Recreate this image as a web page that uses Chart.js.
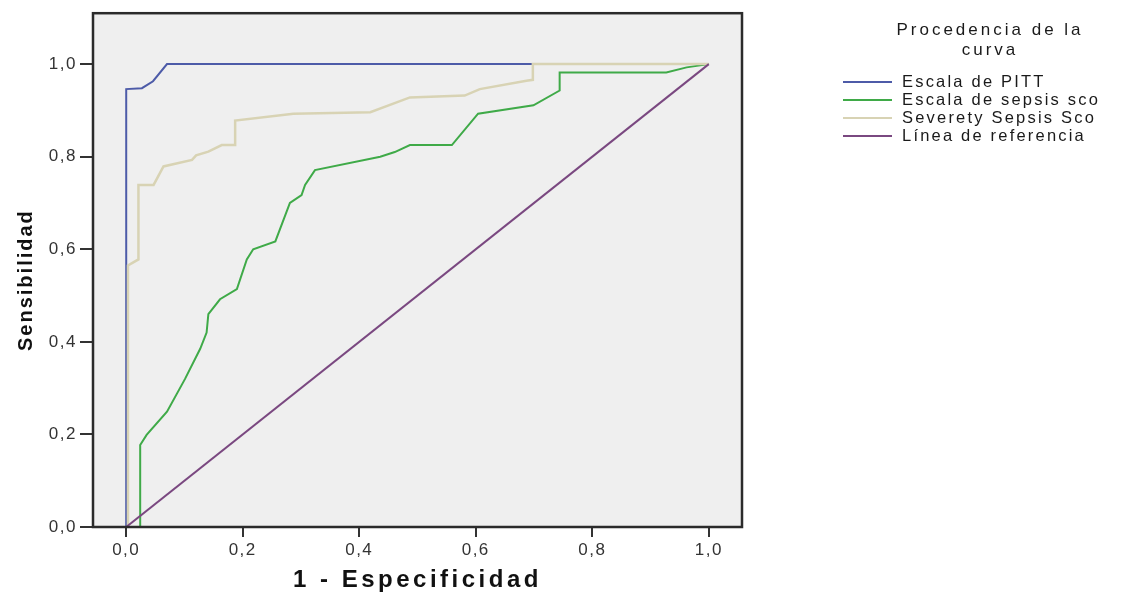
<!DOCTYPE html>
<html>
<head>
<meta charset="utf-8">
<script src="https://cdn.jsdelivr.net/npm/chart.js@4/dist/chart.umd.min.js"></script>
<style>
  body { margin: 0; background: #fff; }
  #wrap { position: relative; width: 1129px; height: 595px; overflow: hidden; }
  #legend { position: absolute; left: 0; top: 0; font-family: "Liberation Sans", Arial, sans-serif; color: #1a1a1a; }
  .ltitle { position: absolute; left: 880px; width: 220px; top: 20px; text-align: center; font-size: 17px; line-height: 20px; letter-spacing: 3px; }
  .litem { position: absolute; left: 843px; height: 18px; line-height: 18px; font-size: 16.5px; letter-spacing: 2.2px; white-space: nowrap; }
  .litem span { display: inline-block; width: 49px; height: 2px; vertical-align: middle; margin-right: 10px; position: relative; top: -1px; }
</style>
</head>
<body>
<div id="wrap">
  <canvas id="roc" width="1129" height="595"></canvas>
  <div id="legend"></div>
</div>
<script>
// ROC curves (x = 1 - especificidad, y = sensibilidad)
const pittX = [0, 0, 0.027, 0.046, 0.07, 1];
const pittY = [0, 0.946, 0.948, 0.963, 1, 1];

const sepsisX = [0.024, 0.024, 0.035, 0.07, 0.101, 0.127, 0.138, 0.141, 0.161, 0.19, 0.207, 0.218, 0.256, 0.281, 0.301, 0.307, 0.324, 0.436, 0.461, 0.487, 0.559, 0.604, 0.699, 0.744, 0.744, 0.927, 0.962, 1];
const sepsisY = [0, 0.177, 0.199, 0.249, 0.32, 0.385, 0.42, 0.46, 0.492, 0.514, 0.578, 0.6, 0.617, 0.7, 0.717, 0.739, 0.771, 0.8, 0.81, 0.825, 0.825, 0.893, 0.911, 0.943, 0.982, 0.982, 0.993, 1];

const severityX = [0.003, 0.003, 0.021, 0.021, 0.047, 0.064, 0.113, 0.12, 0.141, 0.164, 0.187, 0.187, 0.287, 0.419, 0.487, 0.581, 0.607, 0.687, 0.698, 0.698, 1];
const severityY = [0, 0.565, 0.578, 0.739, 0.739, 0.779, 0.793, 0.803, 0.811, 0.825, 0.825, 0.878, 0.893, 0.896, 0.928, 0.932, 0.946, 0.964, 0.966, 1, 1];

const refX = [0, 1];
const refY = [0, 1];

const seriesNames = ['Escala de PITT', 'Escala de sepsis sco', 'Severety Sepsis Sco', 'Línea de referencia'];
const seriesColors = ['#4d5ba8', '#3faa48', '#d8d3b4', '#7a4880'];
const tickValues = [0, 0.2, 0.4, 0.6, 0.8, 1.0];

const pts = (xs, ys) => xs.map((x, i) => ({ x: x, y: ys[i] }));
const fmt = v => v.toFixed(1).replace('.', ',');

const frame = {
  id: 'frame',
  beforeDraw(chart) {
    const { ctx, chartArea: a } = chart;
    ctx.save();
    ctx.fillStyle = '#efefef';
    ctx.fillRect(a.left, a.top, a.right - a.left, a.bottom - a.top);
    ctx.restore();
    ctx.letterSpacing = '1.5px';
  },
  afterLayout(chart) {
    // wider spacing / small shift for the axis titles
    const opts = { x: { sp: '3.5px', dx: 0, dy: 0 }, y: { sp: '2px', dx: 0, dy: 10 } };
    Object.keys(opts).forEach(id => {
      const s = chart.scales[id];
      if (s._wrapped) return;
      const orig = s.drawTitle.bind(s);
      s.drawTitle = function () {
        const ctx = chart.ctx;
        ctx.save();
        ctx.letterSpacing = opts[id].sp;
        ctx.translate(opts[id].dx, opts[id].dy);
        orig();
        ctx.restore();
      };
      s._wrapped = true;
    });
  },
  afterDatasetsDraw(chart) {
    const { ctx, chartArea: a } = chart;
    ctx.save();
    ctx.strokeStyle = '#2b2b2b';
    ctx.lineWidth = 2.5;
    ctx.strokeRect(a.left, a.top, a.right - a.left, a.bottom - a.top);
    ctx.restore();
  },
  afterDraw(chart) {
    chart.ctx.letterSpacing = '0px';
  }
};

const mk = (i, xs, ys, w) => ({
  label: seriesNames[i],
  data: pts(xs, ys),
  borderColor: seriesColors[i],
  backgroundColor: seriesColors[i],
  borderWidth: w,
  showLine: true,
  pointRadius: 0,
  tension: 0,
  order: 4 - i
});

new Chart(document.getElementById('roc'), {
  type: 'scatter',
  data: {
    datasets: [
      mk(0, pittX, pittY, 2),
      mk(1, sepsisX, sepsisY, 2),
      mk(2, severityX, severityY, 2.5),
      mk(3, refX, refY, 2)
    ]
  },
  options: {
    responsive: false,
    animation: false,
    layout: { padding: { top: 8, right: 387, left: 0, bottom: 0 } },
    plugins: { legend: { display: false }, tooltip: { enabled: false } },
    scales: {
      x: {
        type: 'linear',
        min: -0.057,
        max: 1.057,
        afterBuildTicks: s => { s.ticks = tickValues.map(v => ({ value: v })); },
        afterFit: s => { s.height = 68; },
        border: { display: false },
        grid: { drawOnChartArea: false, tickLength: 10, color: '#333', lineWidth: 2 },
        ticks: { callback: fmt, font: { family: 'Liberation Sans', size: 17 }, color: '#333', padding: 3, maxRotation: 0, autoSkip: false },
        title: { display: true, text: '1 - Especificidad', color: '#111', font: { family: 'Liberation Sans', size: 24, weight: 'bold' }, padding: { top: 0, bottom: 0 } }
      },
      y: {
        type: 'linear',
        min: 0,
        max: 1.11,
        afterBuildTicks: s => { s.ticks = tickValues.map(v => ({ value: v })); },
        afterFit: s => { s.width = 93; },
        border: { display: false },
        grid: { drawOnChartArea: false, tickLength: 13, color: '#333', lineWidth: 2 },
        ticks: { callback: fmt, font: { family: 'Liberation Sans', size: 17 }, color: '#333', padding: 3, autoSkip: false },
        title: { display: true, text: 'Sensibilidad', color: '#111', font: { family: 'Liberation Sans', size: 20, weight: 'bold' }, padding: { top: 14, bottom: 0 } }
      }
    }
  },
  plugins: [frame]
});

// legend on the right
const lg = document.getElementById('legend');
lg.innerHTML = '<div class="ltitle">Procedencia de la<br>curva</div>' +
  seriesNames.map((n, i) =>
    '<div class="litem" style="top:' + (72 + i * 18) + 'px"><span style="background:' + seriesColors[i] + '"></span>' + n + '</div>'
  ).join('');
</script>
</body>
</html>
